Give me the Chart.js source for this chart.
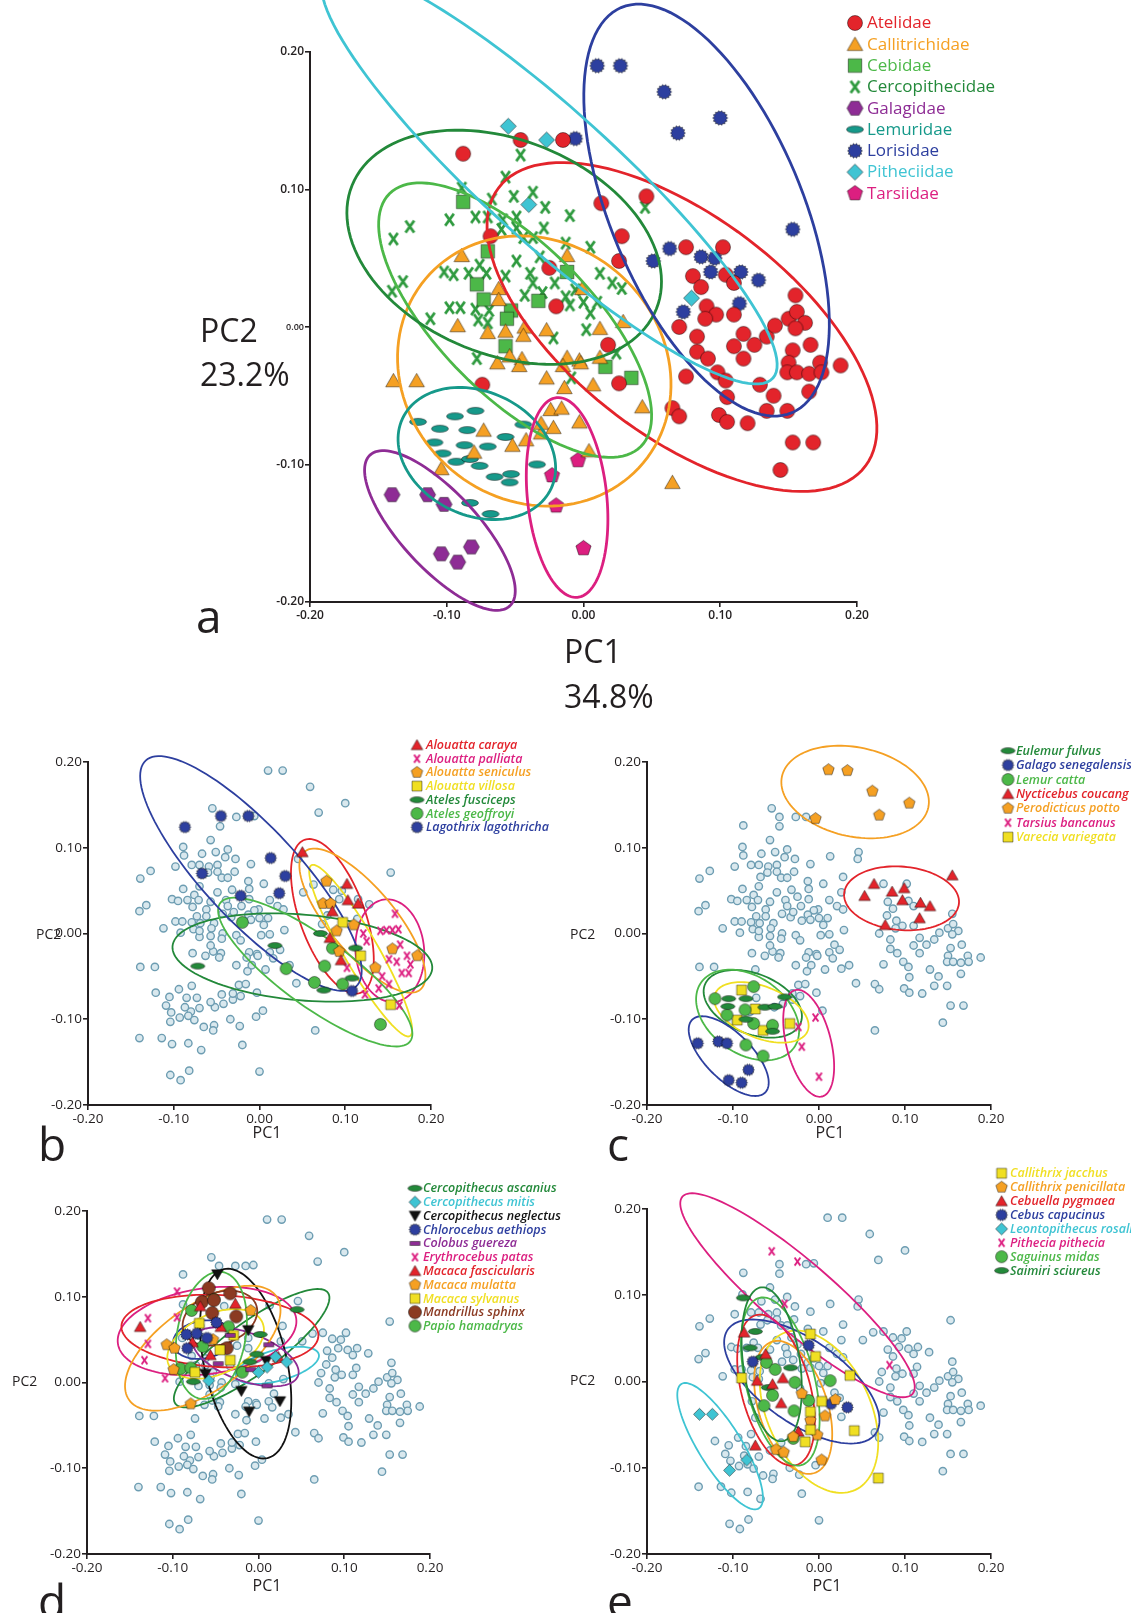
<!DOCTYPE html>
<html>
<head>
<meta charset="utf-8">
<script src="https://cdn.jsdelivr.net/npm/chart.js@4.4.0/dist/chart.umd.min.js"></script>
<style>
body{margin:0;background:#fff;width:1131px;height:1613px;position:relative;overflow:hidden;font-family:'Open Sans',sans-serif;color:#231f20}
canvas{position:absolute}
.t{position:absolute;line-height:1;white-space:nowrap}
</style>
</head>
<body>
<canvas id="ca" width="1131" height="640" style="left:0;top:0"></canvas>
<canvas id="cb" width="565" height="430" style="left:0;top:700px"></canvas>
<canvas id="cc" width="566" height="430" style="left:565px;top:700px"></canvas>
<canvas id="cd" width="565" height="483" style="left:0;top:1130px"></canvas>
<canvas id="ce" width="566" height="483" style="left:565px;top:1130px"></canvas>
<script>
// ---- tick labels (same on every axis) ----
const tickLabels = ['-0.20', '-0.10', '0.00', '0.10', '0.20'];

// ---- panel a: families, [PC1, PC2] ----
const atelidae = [[-0.046,0.136],[-0.015,0.136],[-0.088,0.126],[0.013,0.090],[0.046,0.095],[0.028,0.066],[0.026,0.048],[-0.068,0.066],[-0.025,0.043],[-0.020,0.015],[0.018,-0.013],
  [0.075,0.058],[0.102,0.058],[0.080,0.037],[0.086,0.029],[0.104,0.038],[0.110,0.032],[0.155,0.023],[0.090,0.015],[0.097,0.009],[0.089,0.006],[0.110,0.009],[0.070,0.000],[0.083,-0.007],
  [0.117,-0.005],[0.134,-0.007],[0.140,0.001],[0.150,0.006],[0.156,0.011],[0.162,0.003],[0.155,-0.001],[0.125,-0.013],[0.110,-0.014],[0.083,-0.018],[0.091,-0.023],[0.117,-0.023],
  [0.166,-0.013],[0.153,-0.017],[0.150,-0.026],[0.173,-0.026],[0.188,-0.028],[0.149,-0.033],[0.156,-0.033],[0.165,-0.034],[0.174,-0.033],[0.165,-0.047],[0.098,-0.033],[0.104,-0.039],
  [0.075,-0.036],[0.129,-0.042],[0.139,-0.050],[0.105,-0.051],[0.134,-0.061],[0.149,-0.061],[0.099,-0.064],[0.105,-0.069],[0.120,-0.070],[0.065,-0.059],[0.070,-0.065],[0.153,-0.084],
  [0.168,-0.084],[0.144,-0.104],[0.026,-0.041],[-0.074,-0.042]];
const callitrichidae = [[-0.089,0.052],[-0.012,0.052],[-0.062,0.028],[-0.062,0.020],[-0.001,0.028],[-0.092,0.001],[-0.070,-0.004],[-0.057,-0.003],[-0.043,0.000],[-0.044,-0.006],
  [-0.027,-0.002],[0.012,-0.001],[0.029,0.004],[-0.063,-0.026],[-0.045,-0.023],[-0.054,-0.021],[-0.012,-0.022],[-0.003,-0.024],[0.012,-0.022],[-0.047,-0.028],[-0.015,-0.028],
  [-0.002,-0.026],[-0.027,-0.037],[-0.014,-0.044],[0.007,-0.042],[0.043,-0.058],[-0.139,-0.039],[-0.122,-0.039],[-0.073,-0.075],[-0.080,-0.091],[-0.104,-0.103],[-0.052,-0.086],
  [-0.042,-0.082],[-0.031,-0.077],[-0.031,-0.070],[-0.022,-0.073],[-0.024,-0.060],[-0.016,-0.059],[-0.003,-0.069],[0.004,-0.090],[0.065,-0.113]];
const cebidae = [[-0.088,0.091],[-0.070,0.055],[-0.078,0.031],[-0.073,0.020],[-0.033,0.019],[-0.012,0.040],[-0.053,0.012],[-0.056,0.006],[-0.057,-0.014],[0.016,-0.029],[0.035,-0.037]];
const cercopithecidae = [[-0.046,0.125],[-0.057,0.109],[-0.089,0.101],[-0.067,0.093],[-0.051,0.095],[-0.037,0.098],[-0.028,0.087],[-0.010,0.081],[-0.098,0.078],[-0.127,0.073],
  [-0.079,0.080],[-0.070,0.080],[-0.059,0.078],[-0.049,0.080],[-0.139,0.064],[-0.060,0.071],[-0.049,0.072],[-0.029,0.072],[-0.044,0.065],[-0.037,0.065],[-0.013,0.061],[0.005,0.058],
  [-0.049,0.048],[-0.032,0.051],[-0.076,0.045],[-0.084,0.039],[-0.102,0.040],[-0.095,0.038],[-0.071,0.039],[-0.057,0.037],[-0.039,0.039],[-0.037,0.032],[-0.021,0.032],[-0.006,0.027],
  [0.012,0.039],[0.021,0.032],[0.028,0.028],[-0.132,0.033],[-0.140,0.026],[-0.043,0.023],[-0.030,0.025],[-0.013,0.022],[-0.010,0.016],[0.000,0.018],[0.010,0.018],[-0.098,0.014],
  [-0.090,0.014],[-0.079,0.013],[-0.069,0.012],[-0.112,0.006],[-0.077,0.005],[-0.070,0.003],[0.002,-0.002],[-0.022,-0.008],[0.005,0.010],[-0.078,-0.023],[0.024,-0.019],[0.045,0.087],[-0.009,-0.037]];
const galagidae = [[-0.140,-0.122],[-0.114,-0.122],[-0.102,-0.129],[-0.104,-0.165],[-0.092,-0.171],[-0.082,-0.160]];
const lemuridae = [[-0.121,-0.069],[-0.079,-0.061],[-0.094,-0.065],[-0.105,-0.074],[-0.085,-0.075],[-0.109,-0.084],[-0.087,-0.086],[-0.070,-0.087],[-0.044,-0.071],[-0.057,-0.080],
  [-0.103,-0.092],[-0.093,-0.098],[-0.083,-0.096],[-0.076,-0.101],[-0.065,-0.109],[-0.053,-0.107],[-0.054,-0.113],[-0.034,-0.100],[-0.083,-0.128],[-0.068,-0.136]];
const lorisidae = [[0.010,0.190],[0.027,0.190],[0.059,0.171],[0.100,0.152],[0.069,0.141],[-0.006,0.137],[0.153,0.071],[0.063,0.057],[0.051,0.048],[0.086,0.051],[0.096,0.050],
  [0.093,0.040],[0.115,0.040],[0.128,0.034],[0.114,0.017],[0.073,0.011]];
const pitheciidae = [[-0.055,0.146],[-0.027,0.136],[-0.040,0.089],[0.079,0.021]];
const tarsiidae = [[-0.004,-0.097],[-0.023,-0.108],[-0.020,-0.130],[0.000,-0.161]];

// ---- panel b: Atelidae species ----
const aCaraya = [[0.050,0.095],[0.102,0.058],[0.103,0.039],[0.115,0.035],[0.085,0.026],[0.082,-0.005],[0.095,-0.031]];
const aPalliata = [[0.158,0.023],[0.141,0.003],[0.148,0.004],[0.155,0.004],[0.162,0.005],[0.121,0.000],[0.125,-0.009],[0.164,-0.013],[0.151,-0.030],[0.160,-0.033],
  [0.172,-0.026],[0.176,-0.036],[0.166,-0.046],[0.174,-0.046],[0.143,-0.050],[0.151,-0.059],[0.139,-0.064],[0.123,-0.071],[0.102,-0.040],[0.163,-0.084]];
const aSeniculus = [[0.078,0.061],[0.074,0.035],[0.083,0.035],[0.110,0.010],[0.090,0.003],[0.093,-0.021],[0.155,-0.018],[0.184,-0.026],[0.135,-0.040]];
const aVillosa = [[0.097,0.013],[0.118,-0.026],[0.153,-0.083]];
const aFusciceps = [[-0.072,-0.038],[0.018,-0.014],[0.071,0.000],[0.112,-0.017],[0.108,-0.052],[0.075,-0.066]];
const aGeoffroyi = [[-0.020,0.013],[0.031,-0.041],[0.076,-0.038],[0.064,-0.057],[0.097,-0.059],[0.085,-0.017],[0.141,-0.106]];
const lLagothricha = [[-0.087,0.124],[-0.045,0.137],[-0.013,0.137],[-0.067,0.070],[0.013,0.088],[0.030,0.067],[0.023,0.047],[-0.022,0.044],[0.108,-0.067]];

// ---- panel c: strepsirrhines and tarsier ----
const eFulvus = [[-0.105,-0.076],[-0.085,-0.076],[-0.063,-0.086],[-0.051,-0.085],[-0.040,-0.074],[-0.106,-0.085],[-0.085,-0.100],[-0.054,-0.114]];
const gSenegalensis = [[-0.141,-0.128],[-0.117,-0.126],[-0.107,-0.128],[-0.105,-0.171],[-0.090,-0.174],[-0.082,-0.159]];
const lCatta = [[-0.121,-0.076],[-0.076,-0.062],[-0.086,-0.089],[-0.107,-0.095],[-0.076,-0.105],[-0.054,-0.107],[-0.085,-0.130],[-0.065,-0.143]];
const nCoucang = [[0.053,0.044],[0.064,0.058],[0.085,0.049],[0.099,0.053],[0.097,0.039],[0.118,0.036],[0.129,0.032],[0.117,0.018],[0.077,0.010],[0.155,0.068]];
const pPotto = [[0.011,0.191],[0.033,0.190],[0.062,0.166],[0.105,0.152],[0.070,0.138],[-0.004,0.134]];
const tBancanus = [[-0.024,-0.109],[-0.004,-0.098],[-0.020,-0.132],[0.000,-0.167]];
const vVariegata = [[-0.090,-0.066],[-0.074,-0.088],[-0.095,-0.101],[-0.065,-0.113],[-0.034,-0.105]];

// ---- panel d: Cercopithecidae species ----
const cAscanius = [[0.045,0.085],[0.002,0.056],[-0.002,0.033],[-0.010,0.024],[-0.076,0.001]];
const cMitis = [[0.010,0.018],[0.033,0.024],[-0.058,0.002],[0.000,0.012],[0.020,0.030]];
const cNeglectus = [[-0.048,0.126],[-0.012,0.061],[0.009,0.025],[-0.062,0.010],[-0.020,-0.010],[0.025,-0.022],[-0.011,-0.034]];
const cAethiops = [[-0.084,0.056],[-0.072,0.057],[-0.083,0.040],[-0.049,0.070],[-0.060,0.052]];
const cGuereza = [[-0.033,0.055],[-0.047,0.022],[-0.009,0.015],[0.010,-0.004],[0.012,0.044]];
const ePatas = [[-0.095,0.106],[-0.129,0.075],[-0.095,0.076],[-0.129,0.045],[-0.133,0.026],[-0.109,0.005]];
const mFascicularis = [[-0.138,0.065],[-0.068,0.089],[-0.027,0.092],[-0.077,0.047],[-0.044,0.065],[-0.056,0.032],[0.023,0.030]];
const mMulatta = [[-0.009,0.084],[-0.107,0.044],[-0.098,0.040],[-0.053,0.050],[-0.099,0.015],[-0.079,-0.025]];
const mSylvanus = [[-0.069,0.069],[-0.029,0.055],[-0.074,0.012],[-0.045,0.038],[-0.033,0.026]];
const mSphinx = [[-0.058,0.110],[-0.033,0.104],[-0.066,0.094],[-0.052,0.096],[-0.054,0.081],[-0.026,0.077],[-0.037,0.040]];
const pHamadryas = [[-0.078,0.084],[-0.052,0.097],[-0.035,0.065],[-0.065,0.042],[-0.091,0.016],[-0.079,0.017],[-0.019,0.012]];

// ---- panel e: platyrrhine species ----
const cJacchus = [[-0.010,0.055],[-0.004,0.029],[0.036,0.007],[-0.090,0.004],[0.003,-0.023],[-0.010,-0.035],[0.041,-0.057],[-0.010,-0.056],[-0.016,-0.070],[0.069,-0.112]];
const cPenicillata = [[-0.020,-0.014],[0.007,-0.040],[-0.010,-0.045],[-0.002,-0.062],[-0.030,-0.064],[-0.050,-0.079],[-0.041,-0.082],[0.003,-0.091],[0.019,-0.021]];
const cPygmaea = [[-0.087,0.057],[-0.062,0.032],[-0.072,0.001],[-0.054,-0.003],[-0.042,0.004],[-0.044,-0.025],[-0.024,-0.058],[-0.074,-0.074]];
const cCapucinus = [[-0.077,0.023],[-0.012,0.042],[0.014,-0.026],[0.033,-0.030]];
const lRosalia = [[-0.139,-0.038],[-0.124,-0.038],[-0.084,-0.091],[-0.104,-0.103]];
const pPithecia = [[-0.055,0.151],[-0.025,0.139],[-0.040,0.090],[0.082,0.019]];
const sMidas = [[-0.061,0.022],[-0.051,0.014],[-0.028,-0.001],[0.013,0.001],[-0.064,-0.028],[-0.029,-0.034],[-0.012,-0.022],[-0.030,-0.066],[-0.054,-0.016]];
const sSciureus = [[-0.088,0.097],[-0.074,0.058],[-0.080,0.039],[-0.033,0.016],[-0.059,-0.007],[-0.066,0.028]];

// ---- ellipses: [centre PC1, centre PC2, semi-major, semi-minor, angle deg] ----
const ellA = {atelidae:[0.072,0.0,0.168,0.08,-37], callitrichidae:[-0.036,-0.032,0.104,0.094,-40], cebidae:[-0.05,0.005,0.13,0.055,-45],
  cercopithecidae:[-0.058,0.058,0.12,0.078,-22], galagidae:[-0.105,-0.148,0.075,0.028,-47], lemuridae:[-0.078,-0.092,0.06,0.045,-25],
  lorisidae:[0.09,0.085,0.16,0.07,-67], pitheciidae:[-0.025,0.11,0.22,0.048,-42], tarsiidae:[-0.012,-0.124,0.073,0.029,96]};
const ellB = {caraya:[0.085,0.02,0.095,0.038,-70], palliata:[0.152,-0.02,0.06,0.04,95], seniculus:[0.12,0.015,0.105,0.038,-50],
  villosa:[0.118,-0.02,0.115,0.02,-60], fusciceps:[0.05,-0.028,0.152,0.05,-5], geoffroyi:[0.065,-0.045,0.137,0.04,-36], lagothricha:[-0.01,0.07,0.18,0.055,-47]};
const ellC = {fulvus:[-0.077,-0.082,0.06,0.035,-22], senegalensis:[-0.105,-0.143,0.06,0.027,-45], catta:[-0.083,-0.095,0.066,0.045,-35],
  coucang:[0.096,0.041,0.067,0.037,-5], potto:[0.042,0.165,0.087,0.052,-12], bancanus:[-0.012,-0.128,0.064,0.026,104], variegata:[-0.067,-0.092,0.058,0.03,-22]};
const ellD = {ascanius:[-0.008,0.04,0.11,0.03,36], mitis:[0.022,0.02,0.05,0.018,15], neglectus:[-0.015,0.022,0.113,0.048,-77],
  aethiops:[-0.065,0.05,0.035,0.022,10], guereza:[-0.015,0.03,0.065,0.028,-20], patas:[-0.06,0.06,0.105,0.05,8], fascicularis:[-0.045,0.06,0.115,0.042,-3],
  mulatta:[-0.065,0.04,0.105,0.05,35], sylvanus:[-0.05,0.045,0.06,0.035,25], sphinx:[-0.045,0.075,0.045,0.03,20], hamadryas:[-0.055,0.055,0.075,0.04,80]};
const ellE = {jacchus:[0.0,-0.035,0.1,0.06,-65], penicillata:[-0.03,-0.03,0.08,0.04,-72], pygmaea:[-0.05,-0.01,0.09,0.04,-75],
  capucinus:[-0.02,0.0,0.105,0.048,-35], rosalia:[-0.115,-0.075,0.085,0.025,-58], pithecia:[-0.025,0.1,0.176,0.04,-40.5],
  midas:[-0.045,0.0,0.1,0.04,-76], sciureus:[-0.055,0.02,0.09,0.033,-82]};

// ---- colours ----
const RED = '#e3242b', ORANGE = '#f5a023', GREEN = '#4cb848', DGREEN = '#23893a', PURPLE = '#8e2c95', TEAL = '#16998a',
  BLUE = '#2d3f9f', CYAN = '#3fc4d3', MAGENTA = '#dc1f80', YELLOW = '#f0df22', BLACK = '#111111', BROWN = '#8b3a22';
const FONT = "'Open Sans', sans-serif";

// marker images
function poly(g, n, r, start, r2) {
  for (let i = 0; i < n; i++) {
    const rr = (r2 && i % 2) ? r2 : r;
    const a = (start + i * 360 / n) * Math.PI / 180;
    i ? g.lineTo(rr * Math.cos(a), rr * Math.sin(a)) : g.moveTo(rr * Math.cos(a), rr * Math.sin(a));
  }
  g.closePath();
}
function mk(shape, fill, s) {
  let w = s, h = s;
  if (shape === 'oval') { w = Math.round(s * 1.35); h = Math.round(s * 0.6); }
  if (shape === 'bar') { h = Math.round(s * 0.45); }
  const c = document.createElement('canvas');
  c.width = w + 2; c.height = h + 2;
  const g = c.getContext('2d');
  g.translate(c.width / 2, c.height / 2);
  g.fillStyle = fill; g.strokeStyle = 'rgba(0,0,0,0.45)'; g.lineWidth = 1;
  const r = s / 2 - 0.5;
  g.beginPath();
  if (shape === 'circle') g.arc(0, 0, r, 0, Math.PI * 2);
  else if (shape === 'oval') g.ellipse(0, 0, w / 2 - 0.5, h / 2 - 0.5, 0, 0, Math.PI * 2);
  else if (shape === 'square') g.rect(-r * 0.9, -r * 0.9, r * 1.8, r * 1.8);
  else if (shape === 'bar') g.rect(-w / 2 + 0.5, -h / 2 + 0.5, w - 1, h - 1);
  else if (shape === 'triangle') { g.translate(0, r * 0.22); poly(g, 3, r * 1.12, -90); }
  else if (shape === 'tridown') { g.translate(0, -r * 0.22); poly(g, 3, r * 1.12, 90); }
  else if (shape === 'diamond') poly(g, 4, r, -90);
  else if (shape === 'pentagon') poly(g, 5, r, -90);
  else if (shape === 'hexagon') poly(g, 6, r, 0);
  else if (shape === 'star') poly(g, 28, r, 0, r * 0.8);
  if (shape === 'cross') {
    g.strokeStyle = fill; g.lineWidth = Math.max(1.8, s * 0.22); g.lineCap = 'butt';
    const q = r * 0.72;
    g.moveTo(-q, -r); g.lineTo(q, r); g.moveTo(q, -r); g.lineTo(-q, r); g.stroke();
  } else { g.fill(); g.stroke(); }
  return c;
}

function ds(label, pts, img, color, ell, order) {
  return {label, data: pts.map(p => ({x: p[0], y: p[1]})), pointStyle: img, pointRadius: 5, color, ell, order: order || 0};
}
function grayDs(groups) {
  const pts = [].concat(...groups);
  return {label: 'other', key: false, order: 10, data: pts.map(p => ({x: p[0], y: p[1]})),
    pointStyle: 'circle', pointRadius: 3.7, backgroundColor: '#d9e8ee', borderColor: '#6d9db2', borderWidth: 1.4};
}

// ellipses drawn through the chart's scales
const ellipsePlugin = {
  id: 'ellipses',
  draw(chart, opts) {
    const xs = chart.scales.x, ys = chart.scales.y, ctx = chart.ctx;
    ctx.save();
    ctx.lineWidth = opts.width;
    chart.data.datasets.forEach(d => {
      if (!d.ell) return;
      const [cx, cy, a, b, deg] = d.ell, th = deg * Math.PI / 180;
      ctx.strokeStyle = d.ellColor || d.color;
      ctx.beginPath();
      for (let i = 0; i <= 120; i++) {
        const t = i / 120 * Math.PI * 2;
        const x = cx + a * Math.cos(t) * Math.cos(th) - b * Math.sin(t) * Math.sin(th);
        const y = cy + a * Math.cos(t) * Math.sin(th) + b * Math.sin(t) * Math.cos(th);
        const px = xs.getPixelForValue(x), py = ys.getPixelForValue(y);
        i ? ctx.lineTo(px, py) : ctx.moveTo(px, py);
      }
      ctx.closePath();
      ctx.stroke();
    });
    ctx.restore();
  },
  afterDatasetDraw(chart, args, opts) {
    if (opts.layer === 'mid' && chart.data.datasets[args.index].order === 10) this.draw(chart, opts);
  },
  afterDatasetsDraw(chart, args, opts) {
    if (opts.layer === 'top') this.draw(chart, opts);
  }
};

// key drawn at a fixed place of the canvas
const keyPlugin = {
  id: 'keyList',
  afterDraw(chart, args, o) {
    const ctx = chart.ctx;
    ctx.save();
    ctx.font = o.font;
    ctx.textBaseline = 'middle';
    let i = 0;
    chart.data.datasets.forEach(d => {
      if (d.key === false) return;
      const y = o.y0 + i * o.dy, img = d.pointStyle;
      ctx.drawImage(img, o.mx - img.width / 2, y - img.height / 2);
      ctx.fillStyle = d.textColor || d.color;
      ctx.fillText(d.label, o.tx, y + 0.5);
      i++;
    });
    ctx.restore();
  }
};

function axis(isX, size, font) {
  return {
    type: 'linear', min: -0.2, max: 0.2,
    afterFit: s => { if (isX) s.height = size; else s.width = size; },
    ticks: {stepSize: 0.1, autoSkip: false, maxRotation: 0, padding: 1, color: '#231f20', font,
      callback: (v, i) => tickLabels[i]},
    grid: {display: true, drawOnChartArea: false, drawTicks: true, tickLength: 5, color: '#231f20', lineWidth: 1.6},
    border: {display: true, color: '#231f20', width: 2}
  };
}

function panel(id, datasets, c) {
  return new Chart(document.getElementById(id), {
    type: 'scatter',
    data: {datasets},
    options: {
      responsive: false, animation: false, events: [],
      layout: {padding: c.pad},
      plugins: {legend: {display: false}, tooltip: {enabled: false},
        ellipses: {layer: c.layer, width: c.lw}, keyList: c.key},
      scales: {x: axis(true, c.xh, c.tf), y: axis(false, c.yw, c.tfy || c.tf)}
    },
    plugins: [ellipsePlugin, keyPlugin]
  });
}

// ---- panel a ----
const A = 16;
panel('ca', [
  ds('Atelidae', atelidae, mk('circle', RED, A), RED, ellA.atelidae),
  ds('Callitrichidae', callitrichidae, mk('triangle', ORANGE, A + 1), ORANGE, ellA.callitrichidae),
  ds('Cebidae', cebidae, mk('square', GREEN, A), GREEN, ellA.cebidae),
  ds('Cercopithecidae', cercopithecidae, mk('cross', '#2f9a3f', 13), DGREEN, ellA.cercopithecidae),
  ds('Galagidae', galagidae, mk('hexagon', PURPLE, A + 1), PURPLE, ellA.galagidae),
  ds('Lemuridae', lemuridae, mk('oval', TEAL, 13), TEAL, ellA.lemuridae),
  ds('Lorisidae', lorisidae, mk('star', BLUE, A), BLUE, ellA.lorisidae),
  ds('Pitheciidae', pitheciidae, mk('diamond', CYAN, A + 1), CYAN, ellA.pitheciidae),
  ds('Tarsiidae', tarsiidae, mk('pentagon', MAGENTA, A + 1), MAGENTA, ellA.tarsiidae)
], {pad: {left: 250, top: 52, right: 274, bottom: 10}, yw: 60, xh: 28, layer: 'top', lw: 2.8,
  tf: {family: FONT, size: 12, weight: '600'},
  tfy: c => ({family: FONT, size: c.tick && c.tick.value === 0 ? 9 : 12, weight: '600'}),
  key: {mx: 855, tx: 867, y0: 23, dy: 21.3, font: '17px ' + FONT}});

// ---- lower panels ----
const S = 12;
const lowerKey = (mx, tx, y0, dy) => ({mx, tx, y0, dy, font: 'italic 600 12.5px ' + FONT});
const lowerTicks = {family: FONT, size: 13.5};

panel('cb', [
  ds('Alouatta caraya', aCaraya, mk('triangle', RED, S + 1), RED, ellB.caraya),
  ds('Alouatta palliata', aPalliata, mk('cross', MAGENTA, 9), MAGENTA, ellB.palliata),
  ds('Alouatta seniculus', aSeniculus, mk('pentagon', ORANGE, S + 1), ORANGE, ellB.seniculus),
  ds('Alouatta villosa', aVillosa, mk('square', YELLOW, S), YELLOW, ellB.villosa),
  ds('Ateles fusciceps', aFusciceps, mk('oval', DGREEN, 11), DGREEN, ellB.fusciceps),
  ds('Ateles geoffroyi', aGeoffroyi, mk('circle', GREEN, S + 1), GREEN, ellB.geoffroyi),
  ds('Lagothrix lagothricha', lLagothricha, mk('star', BLUE, S + 1), BLUE, ellB.lagothricha),
  grayDs([callitrichidae, cebidae, cercopithecidae, galagidae, lemuridae, lorisidae, pitheciidae, tarsiidae])
], {pad: {left: 44, top: 62, right: 134, bottom: 3}, yw: 44, xh: 22, layer: 'mid', lw: 1.8, tf: lowerTicks,
  key: lowerKey(417, 426, 45, 13.7)});

panel('cc', [
  ds('Eulemur fulvus', eFulvus, mk('oval', DGREEN, 11), DGREEN, ellC.fulvus),
  ds('Galago senegalensis', gSenegalensis, mk('star', BLUE, S + 1), BLUE, ellC.senegalensis),
  ds('Lemur catta', lCatta, mk('circle', GREEN, S + 1), GREEN, ellC.catta),
  ds('Nycticebus coucang', nCoucang, mk('triangle', RED, S + 1), RED, ellC.coucang),
  ds('Perodicticus potto', pPotto, mk('pentagon', ORANGE, S + 1), ORANGE, ellC.potto),
  ds('Tarsius bancanus', tBancanus, mk('cross', MAGENTA, 9), MAGENTA, ellC.bancanus),
  ds('Varecia variegata', vVariegata, mk('square', YELLOW, S), YELLOW, ellC.variegata),
  grayDs([atelidae, callitrichidae, cebidae, cercopithecidae, pitheciidae])
], {pad: {left: 38, top: 62, right: 140, bottom: 3}, yw: 44, xh: 22, layer: 'mid', lw: 1.8, tf: lowerTicks,
  key: lowerKey(443, 451, 50.7, 14.4)});

panel('cd', [
  ds('Cercopithecus ascanius', cAscanius, mk('oval', DGREEN, 11), DGREEN, ellD.ascanius),
  ds('Cercopithecus mitis', cMitis, mk('diamond', CYAN, S + 1), CYAN, ellD.mitis),
  ds('Cercopithecus neglectus', cNeglectus, mk('tridown', BLACK, S + 1), BLACK, ellD.neglectus),
  ds('Chlorocebus aethiops', cAethiops, mk('star', BLUE, S + 1), BLUE, ellD.aethiops),
  ds('Colobus guereza', cGuereza, mk('bar', PURPLE, 11), PURPLE, ellD.guereza),
  ds('Erythrocebus patas', ePatas, mk('cross', MAGENTA, 9), MAGENTA, ellD.patas),
  ds('Macaca fascicularis', mFascicularis, mk('triangle', RED, S + 1), RED, ellD.fascicularis),
  ds('Macaca mulatta', mMulatta, mk('pentagon', ORANGE, S + 1), ORANGE, ellD.mulatta),
  ds('Macaca sylvanus', mSylvanus, mk('square', YELLOW, S), YELLOW, ellD.sylvanus),
  ds('Mandrillus sphinx', mSphinx, mk('circle', BROWN, S + 2), BROWN, ellD.sphinx),
  ds('Papio hamadryas', pHamadryas, mk('circle', GREEN, S + 1), GREEN, ellD.hamadryas),
  grayDs([atelidae, callitrichidae, cebidae, galagidae, lemuridae, lorisidae, pitheciidae, tarsiidae])
], {pad: {left: 43, top: 81, right: 135, bottom: 37}, yw: 44, xh: 22, layer: 'mid', lw: 1.8, tf: lowerTicks,
  key: lowerKey(415, 423, 58.3, 13.77)});

panel('ce', [
  ds('Callithrix jacchus', cJacchus, mk('square', YELLOW, S), YELLOW, ellE.jacchus),
  ds('Callithrix penicillata', cPenicillata, mk('pentagon', ORANGE, S + 1), ORANGE, ellE.penicillata),
  ds('Cebuella pygmaea', cPygmaea, mk('triangle', RED, S + 1), RED, ellE.pygmaea),
  ds('Cebus capucinus', cCapucinus, mk('star', BLUE, S + 1), BLUE, ellE.capucinus),
  ds('Leontopithecus rosalia', lRosalia, mk('diamond', CYAN, S + 1), CYAN, ellE.rosalia),
  ds('Pithecia pithecia', pPithecia, mk('cross', MAGENTA, 9), MAGENTA, ellE.pithecia),
  ds('Saguinus midas', sMidas, mk('circle', GREEN, S + 1), GREEN, ellE.midas),
  ds('Saimiri sciureus', sSciureus, mk('oval', DGREEN, 11), DGREEN, ellE.sciureus),
  grayDs([atelidae, cercopithecidae, galagidae, lemuridae, lorisidae, tarsiidae])
], {pad: {left: 38, top: 79, right: 140, bottom: 37}, yw: 44, xh: 22, layer: 'mid', lw: 1.8, tf: lowerTicks,
  key: lowerKey(436.6, 445, 43.3, 13.9)});

// ---- text labels ----
function label(txt, x, base, size, center) {
  const d = document.createElement('div');
  d.className = 't';
  d.textContent = txt;
  d.style.fontSize = size + 'px';
  d.style.left = x + 'px';
  d.style.top = (base - 0.888 * size) + 'px';
  if (center) d.style.transform = 'translateX(-50%)';
  document.body.appendChild(d);
}
label('a', 196, 633, 46);
label('PC2', 200, 342, 32);
label('23.2%', 200, 386, 32);
label('PC1', 564, 663, 32);
label('34.8%', 564, 708, 32);
label('PC1', 267, 1138, 16, true);
label('PC1', 830, 1138, 16, true);
label('PC1', 267, 1591, 16, true);
label('PC1', 827, 1591, 16, true);
label('PC2', 36, 939, 14);
label('PC2', 570, 939, 14);
label('PC2', 12, 1386, 14);
label('PC2', 570, 1385, 14);
label('b', 38, 1161, 46);
label('c', 607, 1161, 46);
label('d', 38, 1618, 46);
label('e', 607, 1618, 46);
</script>
</body>
</html>
